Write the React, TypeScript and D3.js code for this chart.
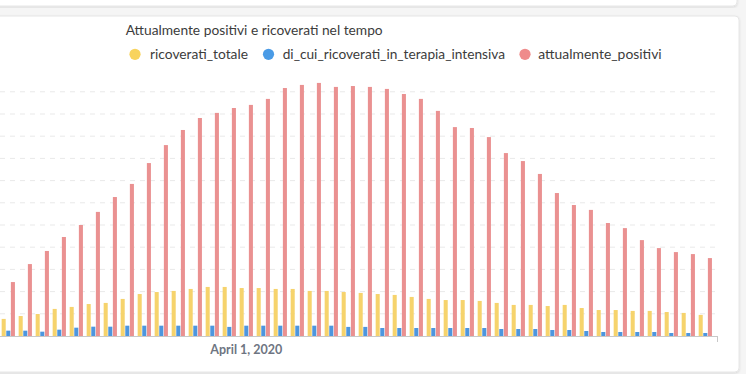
import React from "react";
import * as d3 from "d3";

const dates = [
  "2020-03-18","2020-03-19","2020-03-20","2020-03-21","2020-03-22","2020-03-23","2020-03-24",
  "2020-03-25","2020-03-26","2020-03-27","2020-03-28","2020-03-29","2020-03-30","2020-03-31",
  "2020-04-01","2020-04-02","2020-04-03","2020-04-04","2020-04-05","2020-04-06","2020-04-07",
  "2020-04-08","2020-04-09","2020-04-10","2020-04-11","2020-04-12","2020-04-13","2020-04-14",
  "2020-04-15","2020-04-16","2020-04-17","2020-04-18","2020-04-19","2020-04-20","2020-04-21",
  "2020-04-22","2020-04-23","2020-04-24","2020-04-25","2020-04-26","2020-04-27","2020-04-28",
];

const ricoveratiTotale = [
  770, 900, 990, 1220, 1310, 1440, 1490, 1670, 1890, 1980, 2030, 2120, 2210, 2210,
  2160, 2160, 2120, 2120, 2030, 2030, 1980, 1940, 1890, 1850, 1760, 1670, 1620, 1620,
  1580, 1490, 1400, 1400, 1350, 1400, 1260, 1170, 1170, 1130, 1130, 1080, 1040, 950,
];

const terapiaIntensiva = [
  240, 240, 195, 285, 375, 420, 420, 465, 465, 465, 465, 465, 465, 410,
  465, 465, 465, 465, 465, 465, 410, 410, 360, 360, 360, 360, 360, 360,
  360, 315, 315, 315, 270, 270, 225, 180, 180, 180, 180, 135, 135, 135,
];

const attualmentePositivi = [
  2430, 3240, 3830, 4460, 5000, 5590, 6260, 6850, 7790, 8600, 9280, 9820, 10050, 10270,
  10410, 10680, 11170, 11310, 11400, 11220, 11260, 11220, 11130, 10900, 10680, 10140, 9410, 9370,
  8960, 8240, 7880, 7300, 6440, 5900, 5680, 5090, 4860, 4320, 3960, 3780, 3690, 3510,
];

const seriesKeys = [
  "ricoverati_totale",
  "di_cui_ricoverati_in_terapia_intensiva",
  "attualmente_positivi",
];
const seriesValues = [ricoveratiTotale, terapiaIntensiva, attualmentePositivi];
const seriesColors = ["#f6d36c", "#4d96de", "#ea9191"];
const legendColors = ["#f8d35c", "#4a9be6", "#ef8b8b"];

const yTicks = [1000, 2000, 3000, 4000, 5000, 6000, 7000, 8000, 9000, 10000, 11000];
const xTickValues = ["2020-04-01"];

const title = "Attualmente positivi e ricoverati nel tempo";

export default function App() {
  const W = 746;
  const H = 374;
  const plotRight = 718;
  const baseY = 336;
  const topY = 69.6;

  const x0 = d3
    .scaleBand<string>()
    .domain(dates)
    .range([-4.2, 717.8])
    .paddingInner(0.22)
    .paddingOuter(0.345);
  const x1 = d3
    .scaleBand<string>()
    .domain(seriesKeys)
    .range([0, x0.bandwidth()])
    .paddingInner(0.12);
  const y = d3.scaleLinear().domain([0, 12000]).range([baseY, topY]);

  const parse = d3.timeParse("%Y-%m-%d");
  const fmt = d3.timeFormat("%B %-d, %Y");

  const legendItems = [
    { cx: 135, tx: 150, tw: 98 },
    { cx: 268.5, tx: 282.7, tw: 222.3 },
    { cx: 525, tx: 538.3, tw: 123.4 },
  ];

  return (
    <div
      style={{
        position: "fixed",
        left: 0,
        top: 0,
        width: W,
        height: H,
        background: "#f5f5f5",
        overflow: "hidden",
      }}
    >
      <svg width={W} height={H} style={{ display: "block" }}>
        <defs>
          <filter id="sh" x="-5%" y="-5%" width="110%" height="110%">
            <feDropShadow dx="0" dy="1" stdDeviation="1.2" floodColor="#000" floodOpacity="0.12" />
          </filter>
        </defs>
        {/* cards */}
        <rect x={-10} y={-20} width={747} height={26} rx={4} fill="#fff" stroke="#e6e6e6" filter="url(#sh)" />
        <rect x={-10} y={16} width={749} height={356} rx={4} fill="#fff" stroke="#e6e6e6" filter="url(#sh)" />

        {/* title */}
        <text
          x={125.7}
          y={35.3}
          fontFamily="Lato"
          fontSize={14}
          fill="#3c3c3c"
          textLength={257}
          lengthAdjust="spacingAndGlyphs"
        >
          {title}
        </text>

        {/* legend */}
        {seriesKeys.map((k, i) => (
          <g key={k}>
            <circle cx={legendItems[i].cx} cy={54.3} r={5.6} fill={legendColors[i]} />
            <text
              x={legendItems[i].tx}
              y={59.3}
              fontFamily="Lato"
              fontSize={14}
              fill="#3c3c3c"
              textLength={legendItems[i].tw}
              lengthAdjust="spacingAndGlyphs"
            >
              {k}
            </text>
          </g>
        ))}

        {/* grid */}
        {yTicks.map((t) => (
          <line
            key={t}
            x1={0}
            x2={plotRight}
            y1={y(t)}
            y2={y(t)}
            stroke="#e9e9e9"
            strokeWidth={1}
            strokeDasharray="5,5"
          />
        ))}

        {/* bars */}
        {dates.map((d, di) => (
          <g key={d} transform={`translate(${x0(d)},0)`}>
            {seriesKeys.map((k, si) => {
              const v = seriesValues[si][di];
              return (
                <rect
                  key={k}
                  x={x1(k)}
                  y={y(v)}
                  width={x1.bandwidth()}
                  height={baseY - y(v)}
                  fill={seriesColors[si]}
                />
              );
            })}
          </g>
        ))}

        {/* x axis */}
        <line x1={0} x2={plotRight} y1={baseY + 0.5} y2={baseY + 0.5} stroke="#c8c8c8" strokeWidth={1} />
        <line x1={plotRight - 0.5} x2={plotRight - 0.5} y1={baseY} y2={baseY + 6} stroke="#c8c8c8" strokeWidth={1} />
        {xTickValues.map((t) => (
          <text
            key={t}
            x={(x0(t) as number) + x0.bandwidth() / 2}
            y={354}
            textAnchor="middle"
            fontFamily="Lato"
            fontWeight="bold"
            fontSize={12.5}
            fill="#6e7582"
          >
            {fmt(parse(t) as Date)}
          </text>
        ))}
      </svg>
    </div>
  );
}
